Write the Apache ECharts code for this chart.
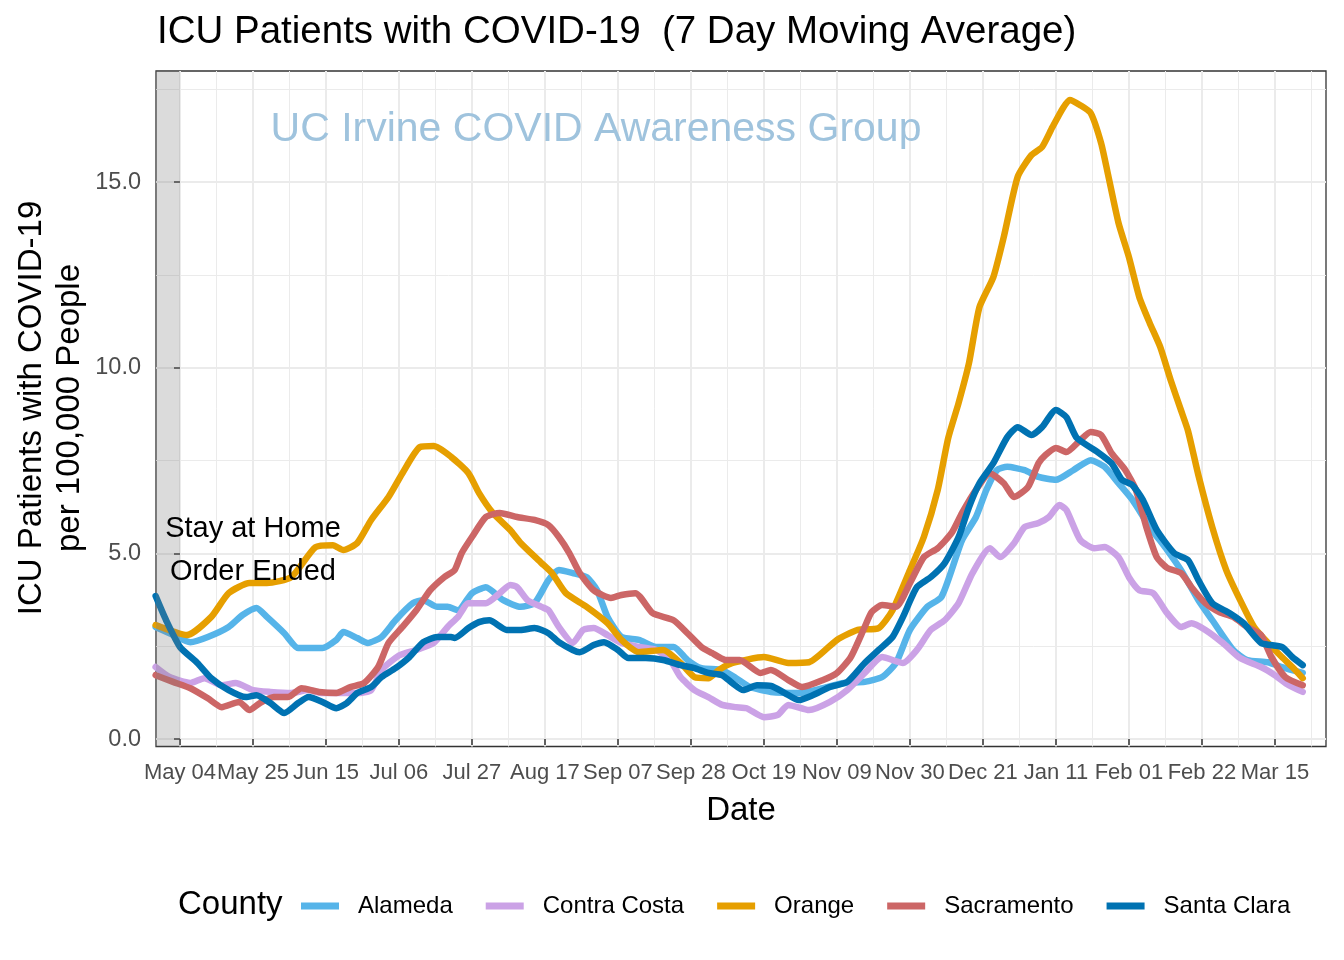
<!DOCTYPE html>
<html>
<head>
<meta charset="utf-8">
<script src="https://cdn.jsdelivr.net/npm/echarts@6/dist/echarts.min.js"></script>
<style>
html,body{margin:0;padding:0;background:#ffffff;}
#chart{width:1344px;height:960px;}
</style>
</head>
<body>
<div id="chart"></div>
<script>
// x values are days since 2020-05-04 (May 04 = 0)
const tickDays = [0, 21, 42, 63, 84, 105, 126, 147, 168, 189, 210, 231, 252, 273, 294, 315];
const tickLabels = ['May 04','May 25','Jun 15','Jul 06','Jul 27','Aug 17','Sep 07','Sep 28','Oct 19','Nov 09','Nov 30','Dec 21','Jan 11','Feb 01','Feb 22','Mar 15'];
const xMinorDays = [10.5, 31.5, 52.5, 73.5, 94.5, 115.5, 136.5, 157.5, 178.5, 199.5, 220.5, 241.5, 262.5, 283.5, 304.5, 325.5];
const yTicks = [0, 5, 10, 15];
const yMinor = [2.5, 7.5, 12.5, 17.5];
const counties = ['Alameda', 'Contra Costa', 'Orange', 'Sacramento', 'Santa Clara'];
const countyColors = ['#56B4E9', '#CBA2E6', '#E69F00', '#CC6666', '#0072B2'];
const orderEndedDay = 0;

const alameda = [[-7,3.02],[-3,2.85],[3,2.61],[8,2.75],[14,3.02],[18,3.34],[22,3.53],[25,3.29],[30,2.85],[34,2.45],[37,2.45],[41,2.45],[45,2.67],[47,2.88],[51,2.72],[54,2.59],[58,2.75],[62,3.2],[67,3.66],[70,3.74],[74,3.56],[77,3.56],[80,3.47],[84,3.93],[88,4.09],[93,3.74],[98,3.56],[102,3.66],[106,4.28],[109,4.55],[113,4.47],[117,4.36],[120,4.01],[123,3.29],[127,2.75],[132,2.67],[137,2.48],[142,2.48],[146,2.13],[150,1.91],[156,1.86],[160,1.64],[164,1.4],[170,1.27],[178,1.24],[185,1.37],[191,1.51],[197,1.54],[202,1.67],[206,2.05],[210,2.94],[215,3.56],[219,3.82],[222,4.55],[225,5.36],[229,5.98],[232,6.71],[235,7.24],[238,7.33],[243,7.24],[247,7.06],[252,6.98],[257,7.24],[262,7.51],[266,7.33],[270,6.89],[274,6.44],[279,5.71],[284,5.09],[288,4.55],[293,3.74],[297,3.2],[303,2.4],[307,2.13],[313,2.07],[317,1.94],[323,1.78]];

const contraCosta = [[-7,1.94],[-3,1.67],[3,1.51],[7,1.64],[12,1.45],[16,1.51],[21,1.32],[26,1.27],[32,1.24],[37,1.32],[41,1.24],[46,1.24],[51,1.24],[55,1.32],[58,1.86],[63,2.25],[68,2.4],[73,2.59],[77,3.02],[80,3.29],[83,3.66],[88,3.66],[92,3.93],[95,4.15],[97,4.09],[100,3.74],[104,3.56],[106,3.47],[109,3.02],[113,2.59],[116,2.94],[119,2.99],[123,2.8],[127,2.59],[132,2.48],[137,2.4],[141,2.13],[144,1.67],[148,1.32],[152,1.13],[156,0.92],[160,0.86],[163,0.83],[168,0.59],[172,0.65],[175,0.92],[181,0.78],[187,1.0],[192,1.32],[197,1.78],[202,2.21],[208,2.05],[212,2.4],[216,2.94],[220,3.2],[224,3.66],[228,4.47],[233,5.14],[236,4.9],[240,5.28],[243,5.71],[247,5.82],[250,5.98],[253,6.3],[255,6.17],[259,5.36],[263,5.14],[266,5.17],[270,4.9],[273,4.36],[276,4.01],[280,3.93],[284,3.39],[288,3.02],[291,3.12],[295,2.94],[300,2.59],[305,2.18],[311,1.94],[315,1.72],[319,1.45],[323,1.27]];

const orange = [[-7,3.07],[2,2.8],[9,3.29],[14,3.93],[20,4.2],[25,4.2],[32,4.36],[39,5.17],[44,5.22],[47,5.09],[51,5.28],[55,5.9],[60,6.52],[64,7.16],[69,7.86],[73,7.89],[78,7.6],[83,7.16],[86,6.63],[90,6.09],[95,5.63],[98,5.28],[104,4.74],[107,4.47],[111,3.93],[117,3.56],[123,3.12],[127,2.67],[132,2.34],[139,2.4],[144,2.05],[148,1.67],[152,1.64],[155,1.86],[159,2.05],[168,2.21],[175,2.05],[181,2.07],[189,2.67],[195,2.94],[201,2.99],[205,3.47],[210,4.55],[214,5.44],[218,6.71],[221,8.1],[224,9.05],[227,10.13],[230,11.63],[234,12.44],[237,13.52],[241,15.14],[245,15.73],[248,15.94],[251,16.48],[254,16.99],[256,17.21],[259,17.07],[262,16.86],[265,16.05],[267,15.2],[270,13.9],[273,12.98],[276,11.9],[279,11.2],[282,10.56],[285,9.67],[288,8.85],[290,8.3],[293,7.1],[297,5.7],[301,4.55],[305,3.74],[309,3.02],[313,2.59],[317,2.21],[320,1.94],[323,1.64]];

const sacramento = [[-7,1.72],[-2,1.54],[3,1.37],[8,1.1],[12,0.86],[17,1.0],[20,0.78],[23,0.97],[27,1.13],[31,1.13],[35,1.37],[40,1.27],[45,1.24],[49,1.4],[53,1.51],[57,1.94],[60,2.59],[64,3.02],[68,3.47],[72,4.01],[76,4.36],[79,4.55],[81,5.0],[84,5.44],[88,5.98],[92,6.09],[97,5.98],[102,5.9],[106,5.76],[109,5.44],[112,5.01],[115,4.47],[119,4.01],[124,3.8],[127,3.88],[131,3.93],[136,3.39],[142,3.2],[146,2.85],[150,2.48],[153,2.32],[157,2.13],[161,2.13],[167,1.78],[170,1.86],[175,1.59],[179,1.4],[185,1.59],[189,1.78],[193,2.21],[197,3.02],[199,3.42],[202,3.61],[206,3.56],[210,4.2],[214,4.9],[218,5.14],[222,5.55],[225,6.09],[229,6.71],[233,7.16],[237,6.89],[240,6.52],[244,6.79],[247,7.43],[249,7.65],[252,7.84],[255,7.73],[259,8.05],[262,8.27],[265,8.19],[268,7.7],[272,7.24],[275,6.71],[278,5.71],[281,4.9],[284,4.61],[288,4.47],[291,4.09],[295,3.66],[299,3.42],[303,3.29],[307,3.02],[311,2.8],[314,2.21],[318,1.67],[323,1.45]];

const santaClara = [[-7,3.85],[-4,3.2],[0,2.48],[5,2.05],[9,1.64],[14,1.32],[19,1.13],[22,1.18],[26,0.97],[30,0.7],[34,0.97],[37,1.13],[41,1.0],[45,0.83],[48,0.97],[51,1.24],[55,1.4],[58,1.67],[62,1.91],[66,2.21],[70,2.61],[74,2.75],[78,2.75],[79,2.72],[83,2.99],[86,3.15],[89,3.2],[94,2.94],[98,2.94],[102,2.99],[106,2.85],[109,2.61],[113,2.4],[115,2.34],[119,2.53],[122,2.61],[126,2.4],[129,2.18],[134,2.18],[139,2.13],[144,1.99],[148,1.91],[152,1.78],[156,1.72],[159,1.5],[162,1.32],[166,1.45],[170,1.43],[174,1.24],[178,1.05],[182,1.18],[187,1.4],[192,1.54],[197,2.05],[201,2.4],[205,2.75],[208,3.29],[212,4.09],[216,4.36],[220,4.74],[224,5.44],[227,6.25],[230,6.89],[234,7.43],[238,8.13],[241,8.4],[245,8.19],[248,8.4],[252,8.86],[255,8.67],[258,8.11],[264,7.73],[268,7.43],[271,6.98],[274,6.84],[277,6.44],[281,5.63],[286,5.01],[290,4.82],[293,4.28],[297,3.66],[302,3.39],[306,3.12],[311,2.59],[317,2.48],[320,2.21],[323,1.99]];

const seriesData = [alameda, contraCosta, orange, sacramento, santaClara];
const FONT = "'Liberation Sans', Arial, Helvetica, sans-serif";

const chart = echarts.init(document.getElementById('chart'), null, {renderer: 'canvas'});

const lineSeries = counties.map((name, i) => ({
  name: name,
  type: 'line',
  data: seriesData[i],
  xAxisIndex: 0,
  yAxisIndex: 0,
  showSymbol: false,
  symbol: 'none',
  smooth: 0.2,
  clip: true,
  z: 3 + i,
  lineStyle: {width: 6.5, color: countyColors[i], cap: 'round', join: 'round'},
  itemStyle: {color: countyColors[i]},
  emphasis: {disabled: true}
}));

lineSeries.push({
  name: 'overlay',
  type: 'line',
  data: [],
  xAxisIndex: 0,
  yAxisIndex: 0,
  z: 20,
  silent: true,
  clip: true,
  markArea: {
    silent: true,
    z: 20,
    itemStyle: {color: 'rgba(127,127,127,0.28)'},
    data: [[{xAxis: -7}, {xAxis: orderEndedDay}]]
  },
  markPoint: {
    silent: true,
    z: 21,
    symbol: 'circle',
    symbolSize: 0,
    label: {
      show: true,
      position: 'inside',
      formatter: 'Stay at Home\nOrder Ended',
      fontFamily: FONT,
      fontSize: 29,
      lineHeight: 43,
      color: '#000000',
      align: 'center',
      verticalAlign: 'middle'
    },
    data: [{coord: [21, 5.08]}]
  }
});

const option = {
  animation: false,
  backgroundColor: '#ffffff',
  textStyle: {fontFamily: FONT},
  grid: {
    left: 156, right: 18, top: 71, bottom: 213.5,
    show: true, borderColor: '#333333', borderWidth: 1.3, backgroundColor: '#ffffff',
    containLabel: false
  },
  legend: {
    data: counties,
    left: 296,
    top: 889,
    orient: 'horizontal',
    icon: 'rect',
    itemWidth: 38,
    itemHeight: 7,
    itemGap: 33,
    selectedMode: false,
    textStyle: {fontFamily: FONT, fontSize: 24, color: '#000000', padding: [0, 0, 0, 14]}
  },
  xAxis: [
    {
      type: 'value', min: -6.9, max: 329.7,
      axisLine: {show: false},
      axisTick: {show: true, length: 6, lineStyle: {color: '#333333', width: 1.5}, customValues: tickDays},
      axisLabel: {
        customValues: tickDays,
        showMinLabel: true,
        showMaxLabel: true,
        hideOverlap: false,
        formatter: v => tickLabels[tickDays.indexOf(Math.round(v))] || '',
        fontFamily: FONT, fontSize: 22, color: '#4D4D4D', margin: 15
      },
      splitLine: {show: true, lineStyle: {color: '#EBEBEB', width: 2}}
    },
    {
      type: 'value', min: -6.9, max: 329.7, position: 'bottom',
      axisLine: {show: false},
      axisTick: {show: false, customValues: xMinorDays},
      axisLabel: {show: false},
      splitLine: {show: true, lineStyle: {color: '#EBEBEB', width: 1}}
    }
  ],
  yAxis: [
    {
      type: 'value', min: -0.2, max: 17.99,
      axisLine: {show: false},
      axisTick: {show: true, length: 6, lineStyle: {color: '#333333', width: 1.5}, customValues: yTicks},
      axisLabel: {
        customValues: yTicks,
        showMinLabel: true,
        showMaxLabel: true,
        hideOverlap: false,
        formatter: v => Number(v).toFixed(1),
        fontFamily: FONT, fontSize: 23.5, color: '#4D4D4D', margin: 15
      },
      splitLine: {show: true, lineStyle: {color: '#EBEBEB', width: 2}}
    },
    {
      type: 'value', min: -0.2, max: 17.99, position: 'left',
      axisLine: {show: false},
      axisTick: {show: false, customValues: yMinor},
      axisLabel: {show: false},
      splitLine: {show: true, lineStyle: {color: '#EBEBEB', width: 1}}
    }
  ],
  graphic: [
    {
      type: 'text', left: 157, top: 13, silent: true,
      style: {text: 'ICU Patients with COVID-19  (7 Day Moving Average)', fontFamily: FONT, fontSize: 38.5, fill: '#000000'}
    },
    {
      type: 'text', x: 596, y: 130, silent: true, z: 1,
      style: {text: 'UC Irvine COVID Awareness Group', fontFamily: FONT, fontSize: 41, fill: '#9FC3DD', align: 'center', verticalAlign: 'middle'}
    },
    {
      type: 'text', x: 51, y: 408, rotation: Math.PI / 2, silent: true,
      style: {text: 'ICU Patients with COVID-19\nper 100,000 People', fontFamily: FONT, fontSize: 33, lineHeight: 38, fill: '#000000', align: 'center', verticalAlign: 'middle'}
    },
    {
      type: 'text', x: 741, y: 811, silent: true,
      style: {text: 'Date', fontFamily: FONT, fontSize: 33, fill: '#000000', align: 'center', verticalAlign: 'middle'}
    },
    {
      type: 'text', x: 178, y: 905, silent: true,
      style: {text: 'County', fontFamily: FONT, fontSize: 33, fill: '#000000', align: 'left', verticalAlign: 'middle'}
    }
  ],
  series: lineSeries
};

chart.setOption(option);
</script>
</body>
</html>
